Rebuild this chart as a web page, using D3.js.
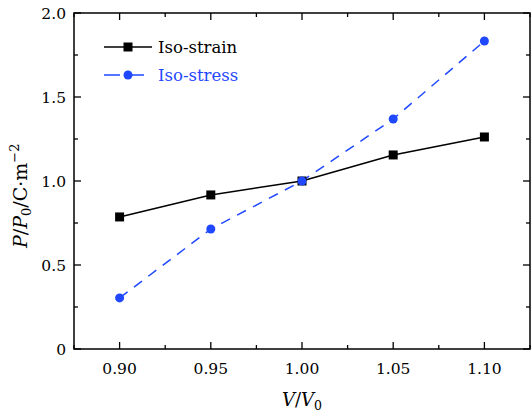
<!DOCTYPE html>
<html>
<head>
<meta charset="utf-8">
<script src="https://cdn.jsdelivr.net/npm/d3@7"></script>
<style>
  body { margin: 0; background: #fff; }
  text { font-family: "DejaVu Serif", serif; }
</style>
</head>
<body>
<svg id="chart" width="531" height="414"></svg>
<script>
const volume = [0.90, 0.95, 1.00, 1.05, 1.10];
const isoStrain = [0.786, 0.917, 1.0, 1.155, 1.262];
const isoStress = [0.304, 0.714, 1.0, 1.369, 1.833];
const xTicks = [0.90, 0.95, 1.00, 1.05, 1.10];
const yTicks = [0, 0.5, 1.0, 1.5, 2.0];

const blue = "#1f48ff";
const pLeft = 74, pRight = 530, pTop = 13, pBottom = 349;

const svg = d3.select("#chart");
const x = d3.scaleLinear().domain([0.875, 1.125]).range([pLeft, pRight]);
const y = d3.scaleLinear().domain([0, 2.0]).range([pBottom, pTop]);

// frame
svg.append("rect")
    .attr("x", pLeft).attr("y", pTop)
    .attr("width", pRight - pLeft).attr("height", pBottom - pTop)
    .attr("fill", "none").attr("stroke", "#000").attr("stroke-width", 1.5);

const xMinor = d3.range(0.875, 1.126, 0.025);
const yMinor = d3.range(0.25, 2.0, 0.5);

// ticks (inward) on all four sides
function ticksX(vals, len) {
  svg.append("g").selectAll("line").data(vals).enter().append("line")
    .attr("x1", d => x(d)).attr("x2", d => x(d))
    .attr("y1", pBottom).attr("y2", pBottom - len)
    .attr("stroke", "#000").attr("stroke-width", 1.3);
  svg.append("g").selectAll("line").data(vals).enter().append("line")
    .attr("x1", d => x(d)).attr("x2", d => x(d))
    .attr("y1", pTop).attr("y2", pTop + len)
    .attr("stroke", "#000").attr("stroke-width", 1.3);
}
function ticksY(vals, len) {
  svg.append("g").selectAll("line").data(vals).enter().append("line")
    .attr("y1", d => y(d)).attr("y2", d => y(d))
    .attr("x1", pLeft).attr("x2", pLeft + len)
    .attr("stroke", "#000").attr("stroke-width", 1.3);
  svg.append("g").selectAll("line").data(vals).enter().append("line")
    .attr("y1", d => y(d)).attr("y2", d => y(d))
    .attr("x1", pRight).attr("x2", pRight - len)
    .attr("stroke", "#000").attr("stroke-width", 1.3);
}
ticksX(xTicks, 7);
ticksX(xMinor.filter(v => !xTicks.some(t => Math.abs(t - v) < 1e-6)), 4);
ticksY(yTicks, 7);
ticksY(yMinor, 4);

// tick labels
svg.append("g").selectAll("text").data(xTicks).enter().append("text")
    .attr("x", d => x(d)).attr("y", pBottom + 25)
    .attr("text-anchor", "middle").attr("font-size", 15.5)
    .text(d => d.toFixed(2));
svg.append("g").selectAll("text").data(yTicks).enter().append("text")
    .attr("x", pLeft - 8).attr("y", d => y(d) + 6)
    .attr("text-anchor", "end").attr("font-size", 15.5)
    .text(d => d === 0 ? "0" : d.toFixed(1));

// axis titles
const xl = svg.append("text").attr("x", x(1.0)).attr("y", 406)
    .attr("text-anchor", "middle").attr("font-size", 18);
xl.append("tspan").attr("font-style", "italic").text("V");
xl.append("tspan").text("/");
xl.append("tspan").attr("font-style", "italic").text("V");
xl.append("tspan").attr("font-size", 12.5).attr("dy", 4).text("0");

// y title: start-anchored, spans roughly y 133..248
const yl = svg.append("text")
    .attr("transform", "translate(27,248) rotate(-90)")
    .attr("font-size", 19);
yl.append("tspan").attr("font-style", "italic").text("P");
yl.append("tspan").text("/");
yl.append("tspan").attr("font-style", "italic").text("P");
yl.append("tspan").attr("font-size", 13).attr("dy", 4).text("0");
yl.append("tspan").attr("dy", -4).text("/C·m");
yl.append("tspan").attr("font-size", 13).attr("dy", -8).text("−2");

// series
const line = d3.line().x(d => x(d[0])).y(d => y(d[1]));
const strainPts = volume.map((v, i) => [v, isoStrain[i]]);
const stressPts = volume.map((v, i) => [v, isoStress[i]]);

svg.append("path").datum(strainPts).attr("d", line)
    .attr("fill", "none").attr("stroke", "#000").attr("stroke-width", 1.5);
svg.append("path").datum(stressPts).attr("d", line)
    .attr("fill", "none").attr("stroke", blue).attr("stroke-width", 1.5)
    .attr("stroke-dasharray", "10,8");

svg.append("g").selectAll("rect").data(strainPts).enter().append("rect")
    .attr("x", d => x(d[0]) - 4.5).attr("y", d => y(d[1]) - 4.5)
    .attr("width", 9).attr("height", 9).attr("fill", "#000");
svg.append("g").selectAll("circle").data(stressPts).enter().append("circle")
    .attr("cx", d => x(d[0])).attr("cy", d => y(d[1])).attr("r", 4.5)
    .attr("fill", blue);

// legend
const lg = svg.append("g");
lg.append("line").attr("x1", 104).attr("x2", 152).attr("y1", 47).attr("y2", 47)
    .attr("stroke", "#000").attr("stroke-width", 1.5);
lg.append("rect").attr("x", 123.5).attr("y", 42.5).attr("width", 9).attr("height", 9).attr("fill", "#000");
lg.append("text").attr("x", 158).attr("y", 53).attr("font-size", 16.5).text("Iso-strain");
lg.append("line").attr("x1", 104).attr("x2", 152).attr("y1", 75).attr("y2", 75)
    .attr("stroke", blue).attr("stroke-width", 1.5).attr("stroke-dasharray", "16,8");
lg.append("circle").attr("cx", 128).attr("cy", 75).attr("r", 4.5).attr("fill", blue);
lg.append("text").attr("x", 158).attr("y", 81).attr("font-size", 16.5).attr("fill", blue).text("Iso-stress");
</script>
</body>
</html>
